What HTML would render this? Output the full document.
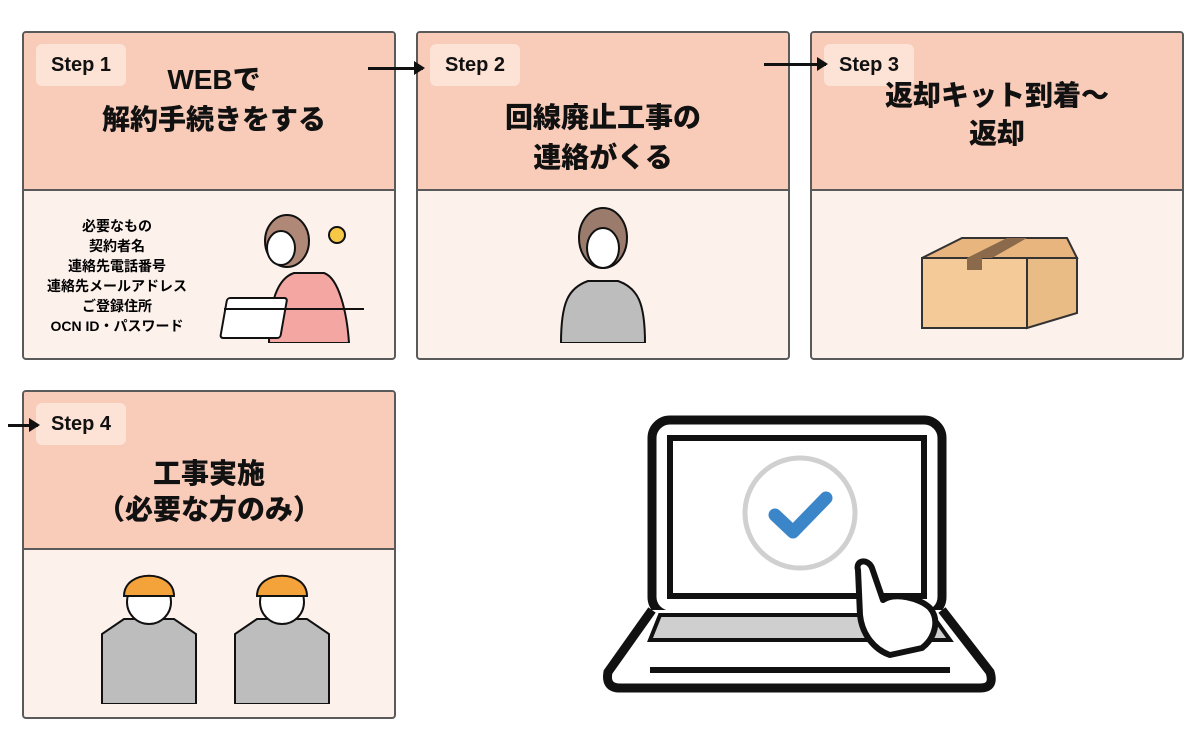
<!DOCTYPE html>
<html><head><meta charset="utf-8"><style>
body{margin:0;width:1200px;height:750px;background:#fff;position:relative;font-family:"Liberation Sans","Noto Sans CJK JP",sans-serif;overflow:hidden}
.card{position:absolute;width:374px;height:329px;border:2px solid #5a5a5a;border-radius:4px;background:#fdf1ec;overflow:hidden;box-sizing:border-box}
.hd{position:absolute;left:0;top:0;right:0;height:156px;background:#f9cbb9;border-bottom:2px solid #5a5a5a}
.badge{position:absolute;left:12px;top:11px;width:90px;height:42px;border-radius:6px;background:#fde2d6;font-weight:bold;font-size:20px;line-height:42px;text-align:center;color:#111}
.tt{position:absolute;left:0;right:0;text-align:center;font-weight:900;font-size:28px;line-height:40px;color:#111}
.arr{position:absolute;height:3px;background:#111}
.arr:after{content:"";position:absolute;right:-2px;top:-6px;border-left:11px solid #111;border-top:7.5px solid transparent;border-bottom:7.5px solid transparent}
</style></head><body>
<div class="card" style="left:22px;top:31px"><div class="hd"><div class="badge">Step 1</div><div class="tt" style="top:27px;left:10px;right:0">WEBで<br>解約手続きをする</div></div>
<div style="position:absolute;left:8px;top:183px;width:170px;text-align:center;font-size:14px;font-weight:bold;line-height:20px">必要なもの<br>契約者名<br>連絡先電話番号<br>連絡先メールアドレス<br>ご登録住所<br>OCN ID・パスワード</div>
<svg style="position:absolute;left:195px;top:170px" width="170" height="140"><path d="M50 140 C50 95 60 75 75 70 L105 70 C120 75 128 110 130 140Z" fill="#f3a6a2" stroke="#111" stroke-width="2"/><ellipse cx="68" cy="38" rx="22" ry="26" fill="#b08878" stroke="#111" stroke-width="2"/><ellipse cx="62" cy="45" rx="14" ry="17" fill="#fff" stroke="#111" stroke-width="2"/><rect x="25" y="95" width="60" height="40" rx="3" fill="#fff" stroke="#111" stroke-width="2" transform="skewX(-10)"/><line x1="5" y1="106" x2="145" y2="106" stroke="#111" stroke-width="2"/><circle cx="118" cy="32" r="8" fill="#f7c845" stroke="#111" stroke-width="2"/></svg></div>
<div class="card" style="left:416px;top:31px"><div class="hd"><div class="badge">Step 2</div><div class="tt" style="top:65px">回線廃止工事の<br>連絡がくる</div></div>
<svg style="position:absolute;left:135px;top:170px" width="100" height="140"><path d="M8 140 C8 100 15 85 35 78 L65 78 C85 85 92 100 92 140Z" fill="#bdbdbd" stroke="#111" stroke-width="2"/><ellipse cx="50" cy="35" rx="24" ry="30" fill="#9a7b6c" stroke="#111" stroke-width="2"/><ellipse cx="50" cy="45" rx="16" ry="20" fill="#fff" stroke="#111" stroke-width="2"/></svg></div>
<div class="card" style="left:810px;top:31px"><div class="hd"><div class="badge">Step 3</div><div class="tt" style="top:44px;line-height:38px">返却キット到着～<br>返却</div></div>
<svg style="position:absolute;left:105px;top:200px" width="170" height="100"><path d="M5 25 L45 5 L150 5 L160 25 Z" fill="#e8b57f" stroke="#333" stroke-width="2"/><rect x="5" y="25" width="105" height="70" fill="#f4cb98" stroke="#333" stroke-width="2"/><path d="M110 25 L160 25 L160 80 L110 95Z" fill="#eabc85" stroke="#333" stroke-width="2"/><path d="M50 25 L75 25 L110 5 L90 5Z" fill="#8a6a4a"/><rect x="50" y="25" width="15" height="12" fill="#8a6a4a"/></svg></div>
<div class="card" style="left:22px;top:390px"><div class="hd"><div class="badge">Step 4</div><div class="tt" style="top:64px;line-height:36px">工事実施<br>（必要な方のみ）</div></div>
<svg style="position:absolute;left:70px;top:172px" width="240" height="140"><g id="w"><path d="M8 140 L8 70 L30 55 L80 55 L102 70 L102 140Z" fill="#bdbdbd" stroke="#111" stroke-width="2"/><circle cx="55" cy="38" r="22" fill="#fff" stroke="#111" stroke-width="2"/><path d="M30 32 C30 5 80 5 80 32Z" fill="#f4a23a" stroke="#111" stroke-width="2"/></g><use href="#w" x="133"/></svg></div>
<div class="arr" style="left:368px;top:67px;width:55px"></div>
<div class="arr" style="left:764px;top:63px;width:62px"></div>
<div class="arr" style="left:8px;top:424px;width:30px"></div>
<svg style="position:absolute;left:600px;top:410px" width="400" height="290">
<rect x="52" y="10" width="290" height="195" rx="18" fill="#fff" stroke="#111" stroke-width="9"/>
<rect x="70" y="28" width="254" height="158" fill="none" stroke="#111" stroke-width="6"/>
<path d="M52 200 L8 262 Q5 278 20 278 L380 278 Q395 278 390 262 L342 200" fill="#fff" stroke="#111" stroke-width="9"/>
<path d="M60 205 L50 230 L350 230 L332 205Z" fill="#cfcfcf" stroke="#111" stroke-width="4"/>
<line x1="50" y1="260" x2="350" y2="260" stroke="#111" stroke-width="6"/>
<circle cx="200" cy="103" r="55" fill="#fff" stroke="#d0d0d0" stroke-width="5"/>
<path d="M175 105 L193 122 L226 88" fill="none" stroke="#3b86c8" stroke-width="13" stroke-linecap="round" stroke-linejoin="round"/>
<path d="M258 160 C255 150 268 148 272 158 L283 190 C295 182 320 188 330 198 C340 210 335 228 322 238 L290 245 C275 240 262 225 260 205Z" fill="#fff" stroke="#111" stroke-width="6" stroke-linejoin="round"/>
</svg>
</body></html>
